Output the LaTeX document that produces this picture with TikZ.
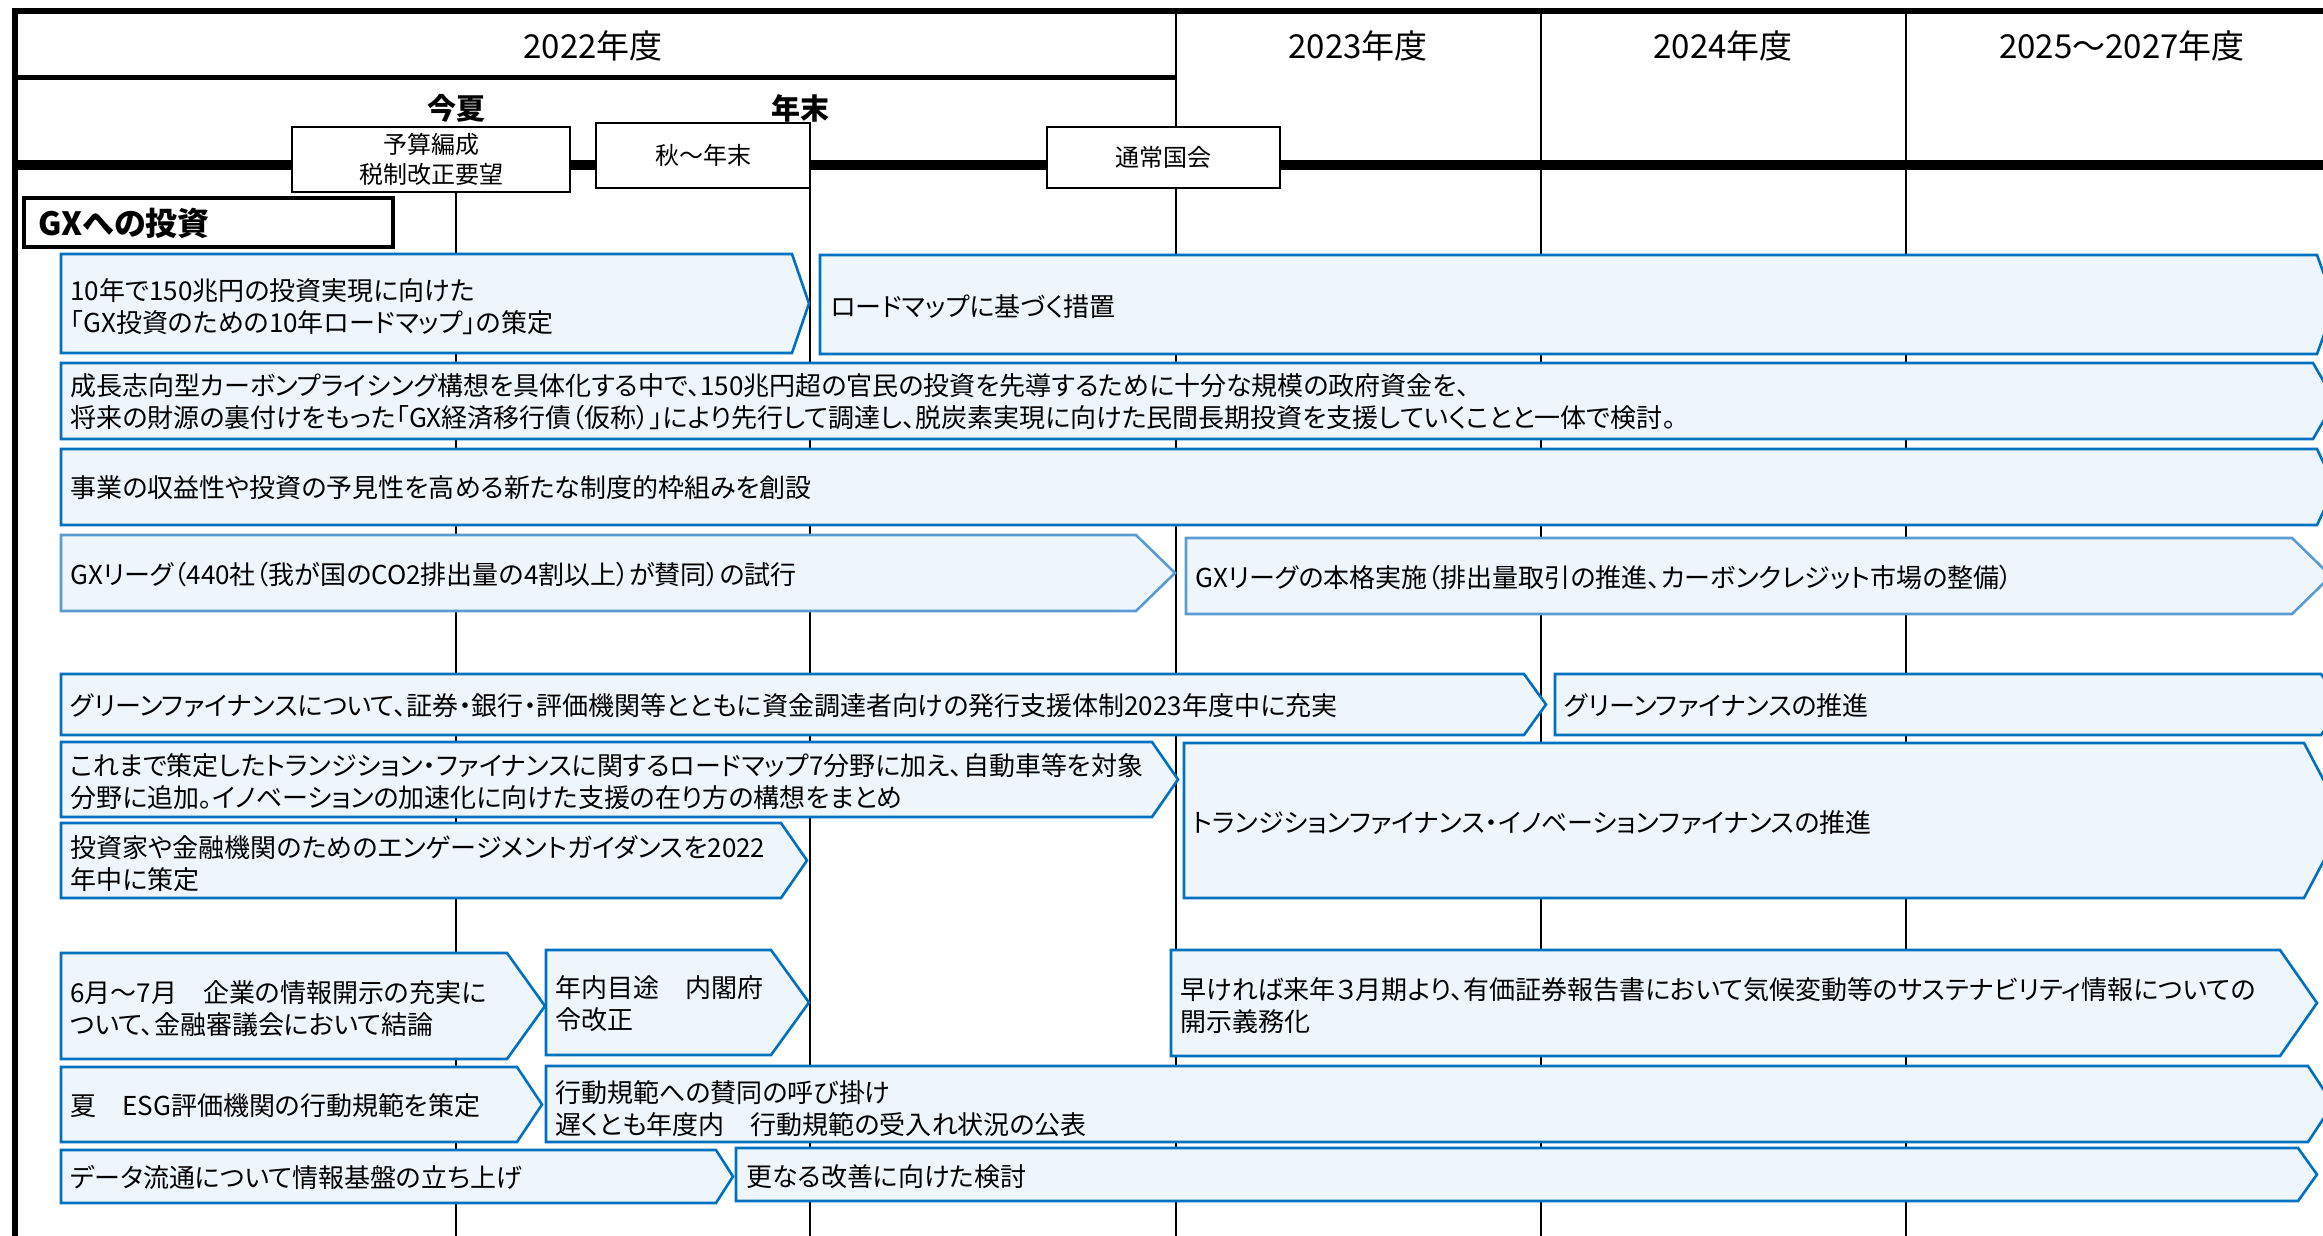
\documentclass[tikz,border=0pt]{standalone}
\usepackage{fontspec}
\setmainfont{Noto Sans CJK JP}[RawFeature=+palt]
\usetikzlibrary{positioning}
\definecolor{barfill}{HTML}{EEF5FB}
\definecolor{bardark}{HTML}{0070C0}
\definecolor{barpale}{HTML}{5B9BD5}

\begin{document}
\begin{tikzpicture}[x=0.5pt, y=-0.5pt,
    bar/.style={draw=bardark, fill=barfill, line width=1.3pt, line join=miter},
    barlt/.style={bar, draw=barpale},
    txt/.style={anchor=west, inner sep=0pt, align=left, font=\fontsize{13}{16}\selectfont},
    fyear/.style={inner sep=0pt, font=\fontsize{16.5}{20}\selectfont},
    season/.style={inner sep=0pt, font=\fontsize{14.5}{18}\selectfont\bfseries},
    stage/.style={draw, fill=white, line width=1.4pt, align=center, inner sep=0pt, font=\fontsize{12}{15}\selectfont}]

      \useasboundingbox (0,0) rectangle (2323,1236);
      \fill[white] (0,0) rectangle (2323,1236);

      \draw[line width=2.75pt] (15,1236) -- (15,11) -- (2323,11);
      \draw[line width=2.5pt] (15,78) -- (1176,78);
      \foreach \x in {1176,1541,1906} \draw[line width=1.2pt] (\x,11) -- (\x,1236);
      \draw[line width=1.2pt] (456,192) -- (456,1236);
      \draw[line width=1.2pt] (810,123) -- (810,1236);
      \draw[line width=5pt] (15,165) -- (2323,165);

      \node[fyear] (fy22) at (593,46) {2022年度};
      \node[fyear] (fy23) at (1358,46) {2023年度};
      \node[fyear] (fy24) at (1723,46) {2024年度};
      \node[fyear] (fy25) at (2122,46) {2025～2027年度};

      \node[season] (summer) at (456,108) {今夏};
      \node[season] (yearend) at (800,108) {年末};

      \node[stage, minimum width=139pt, minimum height=32.5pt] (budget) at (431,159.5) {予算編成\\税制改正要望};
      \node[stage, minimum width=107pt, minimum height=32.5pt] (autumn) at (703,155.5) {秋～年末};
      \node[stage, minimum width=116.5pt, minimum height=30.5pt] (diet) at (1163.5,157.5) {通常国会};

      \draw[line width=2pt, fill=white] (24,198) rectangle (393,247);
      \node[txt, font=\fontsize{16}{20}\selectfont\bfseries] (gx) at (38,223) {GXへの投資};

      \foreach \xa/\ya/\xb/\yb/\xt in {61/254/792/353/809, 820/255/2317/354/2335,
          61/363/2313/439/2335, 61/449/2317/525/2335,
          61/674/1524/735/1546, 1555/674/2321/735/2343,
          61/742/1152/817/1178, 1184/743/2304/898/2345, 61/823/781/898/807,
          61/953/507/1059/545, 546/950/771/1055/809, 1171/950/2280/1056/2317,
          61/1067/517/1142/542, 546/1066/2308/1142/2333,
          61/1150/716/1203/733, 736/1148/2298/1201/2317}
        \draw[bar] (\xa,\ya) -- (\xb,\ya) -- (\xt,{(\ya+\yb)/2}) -- (\xb,\yb) -- (\xa,\yb) -- cycle;
      \foreach \xa/\ya/\xb/\yb/\xt in {61/535/1136/611/1175, 1186/538/2292/614/2331}
        \draw[barlt] (\xa,\ya) -- (\xb,\ya) -- (\xt,{(\ya+\yb)/2}) -- (\xb,\yb) -- (\xa,\yb) -- cycle;

      \node[txt] (plan) at (70,307) {10年で150兆円の投資実現に向けた\\「GX投資のための10年ロードマップ」の策定};
      \node[txt] (measures) at (830,307) {ロードマップに基づく措置};
      \node[txt] (bond) at (70,402) {成長志向型カーボンプライシング構想を具体化する中で、150兆円超の官民の投資を先導するために十分な規模の政府資金を、\\将来の財源の裏付けをもった「GX経済移行債（仮称）」により先行して調達し、脱炭素実現に向けた民間長期投資を支援していくことと一体で検討。};
      \node[txt] (scheme) at (70,488) {事業の収益性や投資の予見性を高める新たな制度的枠組みを創設};
      \node[txt] (leaguetrial) at (70,575) {GXリーグ（440社（我が国のCO2排出量の4割以上）が賛同）の試行};
      \node[txt] (leaguefull) at (1195,578) {GXリーグの本格実施（排出量取引の推進、カーボンクレジット市場の整備）};
      \node[txt] (greensup) at (70,706) {グリーンファイナンスについて、証券・銀行・評価機関等とともに資金調達者向けの発行支援体制2023年度中に充実};
      \node[txt] (greenpush) at (1564,706) {グリーンファイナンスの推進};
      \node[txt] (transmap) at (70,782) {これまで策定したトランジション・ファイナンスに関するロードマップ7分野に加え、自動車等を対象\\分野に追加。イノベーションの加速化に向けた支援の在り方の構想をまとめ};
      \node[txt] (transpush) at (1192,823) {トランジションファイナンス・イノベーションファイナンスの推進};
      \node[txt] (engage) at (70,864) {投資家や金融機関のためのエンゲージメントガイダンスを2022\\年中に策定};
      \node[txt] (council) at (70,1009) {6月～7月　企業の情報開示の充実に\\ついて、金融審議会において結論};
      \node[txt] (cabinet) at (555,1004) {年内目途　内閣府\\令改正};
      \node[txt] (disclose) at (1180,1006) {早ければ来年３月期より、有価証券報告書において気候変動等のサステナビリティ情報についての\\開示義務化};
      \node[txt] (esgcode) at (70,1106) {夏　ESG評価機関の行動規範を策定};
      \node[txt] (esgcall) at (555,1109) {行動規範への賛同の呼び掛け\\遅くとも年度内　行動規範の受入れ状況の公表};
      \node[txt] (database) at (70,1177) {データ流通について情報基盤の立ち上げ};
      \node[txt] (improve) at (746,1177) {更なる改善に向けた検討};

    \end{tikzpicture}
\end{document}
